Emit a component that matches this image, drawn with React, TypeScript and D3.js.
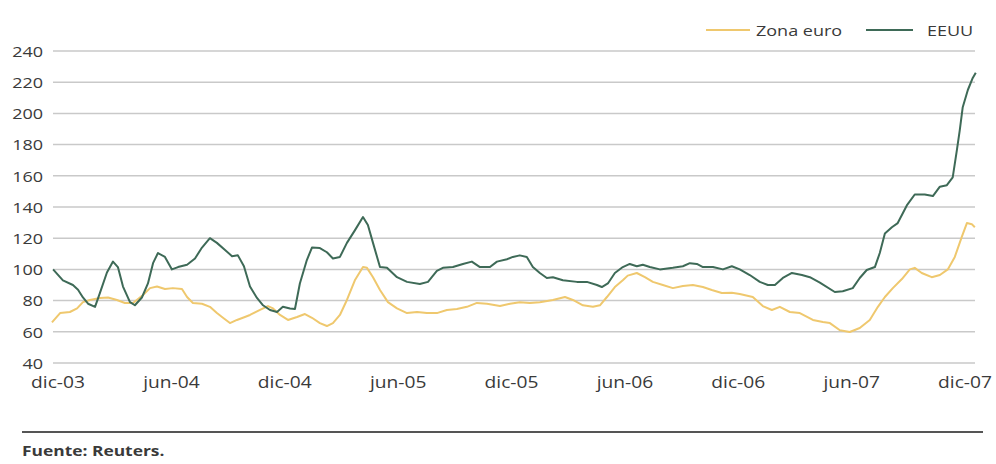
import React from "react";
import * as d3 from "d3";

// Month offsets from December 2003 (0 = dic-03, 48 = dic-07)
const usMonths = [-0.26,0.26,0.79,1.06,1.32,1.59,1.96,2.22,2.59,2.91,3.17,3.44,3.81,4.07,4.44,4.76,5.03,5.29,5.66,6.03,6.35,6.83,7.25,7.62,8.04,8.41,8.84,9.21,9.52,9.84,10.16,10.53,10.85,11.22,11.59,11.9,12.28,12.54,12.8,13.17,13.44,13.86,14.23,14.55,14.92,15.29,15.71,16.14,16.4,16.67,17.04,17.41,17.94,18.47,19.15,19.58,20.05,20.37,20.9,21.43,21.9,22.33,22.86,23.23,23.76,24.07,24.44,24.81,25.13,25.5,25.87,26.19,26.72,27.46,27.99,28.52,28.78,29.1,29.47,29.89,30.26,30.63,30.95,31.32,31.85,32.54,33.07,33.44,33.81,34.13,34.66,35.19,35.66,36.08,36.61,37.14,37.57,37.94,38.36,38.84,39.37,39.79,40.32,41.11,41.53,42.06,42.43,42.8,43.23,43.49,43.76,44.13,44.44,44.92,45.34,45.87,46.3,46.67,47.04,47.35,47.57,47.72,47.88,48.15,48.41,48.57];
const usValues = [100,93,90,87,82,78,76,85,98,105,101.5,89,79,77,82,91,104,110.5,108,100,101.5,103,107,114,120,117,112.5,108.5,109,102,89,81.7,77,74,72.7,76,75,74.6,91,106,114,113.7,111,107,108,117,125,133.6,128.5,117,101.5,101,95,92,90.6,92,99,101,101.5,103.5,105,101.5,101.5,105,106.5,108,109,108,101.5,97.7,94.5,95,93,92,92,90,88.7,91,97.7,101.5,103.5,102,103,101.5,100,101,102,104,103.5,101.5,101.5,100,102,100,96.4,92,90,90,94.5,97.7,96.4,95,91.5,85.5,86,88,94.5,99.6,101.5,110.5,123,127,129.7,141,148,148,147,153,154,159,176.5,189,204,215,222.7,226];

const euroMonths = [-0.32,0.11,0.63,1.01,1.32,1.69,2.22,2.65,3.12,3.54,3.97,4.5,4.87,5.24,5.66,6.08,6.56,6.83,7.14,7.62,8.04,8.41,8.73,9.1,9.47,9.89,10.16,10.69,11.11,11.38,11.75,12.17,12.65,13.07,13.44,13.86,14.23,14.55,14.92,15.29,15.71,16.14,16.35,16.67,17.04,17.46,17.94,18.47,19.0,19.52,20.05,20.58,21.11,21.64,22.17,22.7,23.39,23.92,24.44,24.97,25.5,26.19,26.83,27.25,27.78,28.31,28.68,29.05,29.47,29.89,30.15,30.63,31.06,31.48,32.01,32.54,33.07,33.6,34.13,34.6,35.13,35.66,36.08,36.77,37.3,37.78,38.2,38.73,39.26,39.95,40.48,40.85,41.38,41.9,42.43,42.96,43.39,43.76,44.18,44.66,45.08,45.34,45.71,46.24,46.67,47.09,47.46,47.83,48.1,48.36,48.52];
const euroValues = [66,72,72.7,75,79,80.4,81.7,82,80.4,78.5,78.5,83.6,88,89,87.4,88,87.4,82.3,78.5,78,76,72,69,65.6,67.6,69.5,70.8,74,76.5,75,70.8,67.6,69.5,71.4,69,65.6,63.7,65.6,70.8,80.4,93,101.5,101,95,86.8,79,75,72,72.7,72,72,74,74.6,76,78.5,78,76.5,78,79,78.5,79,80.4,82.3,80.4,77,76,77,82.3,88.7,93,96,97.7,95,92,90,88,89.4,90,88.7,86.8,84.9,85,84.2,82.3,76.5,74,76,72.7,72,67.6,66.3,65.6,61,59.9,62.4,67.6,76,82.3,88,93.8,100,101,97.7,95,96.4,100,108,120.8,129.7,129,127];

const yTicks = [40, 60, 80, 100, 120, 140, 160, 180, 200, 220, 240];
const xTickMonths = [0, 6, 12, 18, 24, 30, 36, 42, 48];
const xTickLabels = ["dic-03", "jun-04", "dic-04", "jun-05", "dic-05", "jun-06", "dic-06", "jun-07", "dic-07"];
const seriesNames = ["Zona euro", "EEUU"];
const sourceText = "Fuente: Reuters.";

const W = 996;
const H = 464;
const EURO = "#efc86e";
const US = "#3e6a57";
const TEXT = "#3a3a3a";
const FONT = "'Open Sans', 'Noto Sans', sans-serif";
const SX = 1.2;

export default function App() {
  const x = d3.scaleLinear().domain([0, 48]).range([58, 965]);
  const y = d3.scaleLinear().domain([40, 240]).range([363, 51]);
  const line = d3
    .line<[number, number]>()
    .x((d) => x(d[0]))
    .y((d) => y(d[1]));
  const usData = usMonths.map((m, i) => [m, usValues[i]] as [number, number]);
  const euroData = euroMonths.map((m, i) => [m, euroValues[i]] as [number, number]);

  return (
    <svg
      width={W}
      height={H}
      style={{ position: "absolute", left: 0, top: 0, background: "#fff" }}
      fontFamily={FONT}
    >
      {yTicks.map((t) => (
        <g key={t}>
          <line x1={53} x2={975} y1={y(t)} y2={y(t)} stroke="#c9c9c9" strokeWidth={1.5} />
          <text
            transform={`translate(43,${y(t)}) scale(${SX},1)`}
            textAnchor="end"
            dominantBaseline="central"
            fontSize={15}
            fill={TEXT}
          >
            {t}
          </text>
        </g>
      ))}
      {xTickMonths.map((m, i) => (
        <text
          key={m}
          transform={`translate(${x(m)},388) scale(${SX},1)`}
          textAnchor="middle"
          fontSize={16}
          fill={TEXT}
        >
          {xTickLabels[i]}
        </text>
      ))}
      <path d={line(euroData) || ""} fill="none" stroke={EURO} strokeWidth={2} strokeLinejoin="round" />
      <path d={line(usData) || ""} fill="none" stroke={US} strokeWidth={2} strokeLinejoin="round" />

      {/* legend */}
      <line x1={706} x2={750} y1={30} y2={30} stroke={EURO} strokeWidth={2} />
      <text transform={`translate(756,30) scale(${SX},1)`} dominantBaseline="central" fontSize={15} fill={TEXT}>
        {seriesNames[0]}
      </text>
      <line x1={866} x2={913} y1={30} y2={30} stroke={US} strokeWidth={2} />
      <text transform={`translate(927,30) scale(${SX},1)`} dominantBaseline="central" fontSize={15} fill={TEXT}>
        {seriesNames[1]}
      </text>

      {/* footer */}
      <line x1={22} x2={983} y1={432} y2={432} stroke="#555" strokeWidth={1.8} />
      <text
        transform={`translate(22,456) scale(${SX},1)`}
        fontSize={14.5}
        fontWeight="bold"
        fill={TEXT}
      >
        {sourceText}
      </text>
    </svg>
  );
}
